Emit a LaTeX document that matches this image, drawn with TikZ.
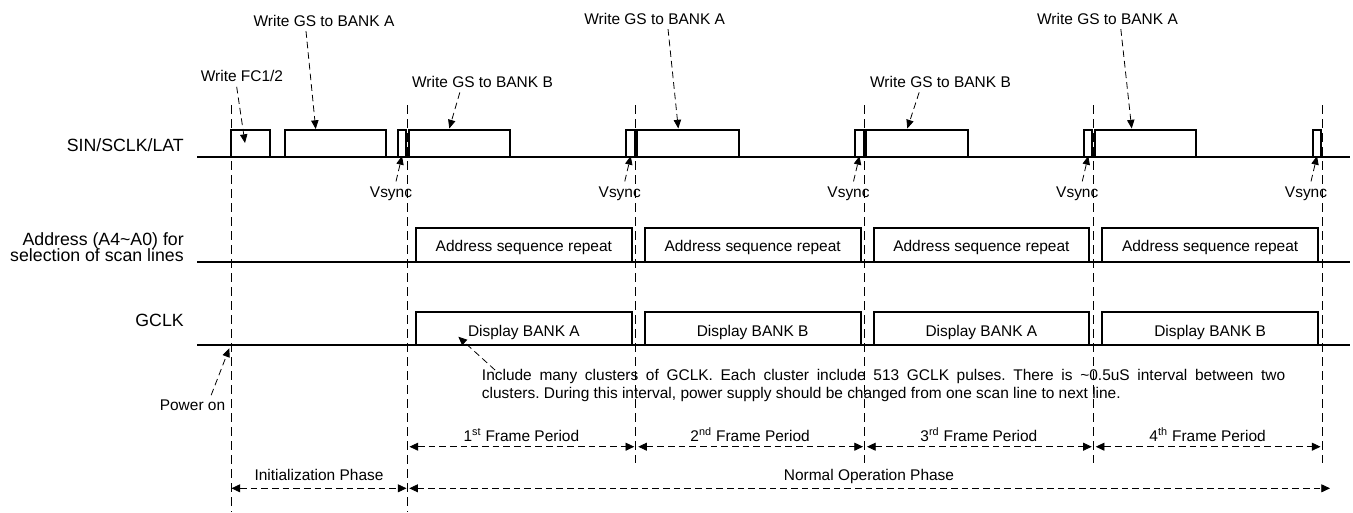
\documentclass[tikz,border=0pt]{standalone}
\usepackage{fontspec}
\setmainfont{Liberation Sans}
\usetikzlibrary{arrows.meta}
\def\period{228.75}
\def\syncx{407}
\def\sinlow{157}
\def\sinhigh{130}

\begin{document}
\begin{tikzpicture}[x=0.75pt,y=-0.75pt,font=\fontsize{11.6}{13.75}\selectfont]
            \tikzstyle{signal}=[line width=1.5pt]
            \tikzstyle{marker}=[line width=0.6pt,dash pattern=on 7pt off 3.5pt]
            \tikzstyle{note}=[line width=0.6pt,dash pattern=on 5pt off 3pt,-{Triangle[length=6.5pt,width=5.5pt]}]
            \tikzstyle{span}=[line width=0.6pt,dash pattern=on 5pt off 3pt,{Triangle[length=6.5pt,width=6pt]}-{Triangle[length=6.5pt,width=6pt]}]
            \tikzstyle{tag}=[inner sep=3.5pt,anchor=base]
            \tikzstyle{row name}=[inner sep=0pt,anchor=base east,font=\fontsize{13.3}{16}\selectfont]

            \useasboundingbox (0,0) rectangle (1353,512);

            % Signal names
            \node[row name] (sin)  at (184,151.7) {SIN/SCLK/LAT};
            \node[row name] (addr) at (184,245)   {Address (A4\textasciitilde A0) for};
            \node[row name] (scan) at (184,261.5) {selection of scan lines};
            \node[row name] (gclk) at (184,326.7) {GCLK};

            % Low levels
            \draw[signal] (197,\sinlow) -- (1350,\sinlow);
            \draw[signal] (197,261.7) -- (1350,261.7);
            \draw[signal] (197,345) -- (1350,345);

            % SIN/SCLK/LAT pulses before the first Vsync
            \draw[signal] (231,\sinlow) |- (270,\sinhigh) -- (270,\sinlow);
            \draw[signal] (285,\sinlow) |- (386,\sinhigh) -- (386,\sinlow);

            % Vsync pulses
            \foreach \k in {0,...,4}{
                \pgfmathsetmacro\xs{\syncx+\k*\period}
                \draw[signal] ({\xs-9.5},\sinlow) |- ({\xs-1},\sinhigh) -- ({\xs-1},\sinlow);
            }
            % Grayscale writes after each Vsync
            \foreach \k in {0,...,3}{
                \pgfmathsetmacro\xs{\syncx+\k*\period}
                \draw[signal] ({\xs+1.5},\sinlow) |- ({\xs+103},\sinhigh) -- ({\xs+103},\sinlow);
            }

            % Address and GCLK pulses, one per frame
            \foreach \k/\bank in {0/A,1/B,2/A,3/B}{
                \pgfmathsetmacro\xa{\syncx+\k*\period+9}
                \pgfmathsetmacro\xb{\syncx+(\k+1)*\period-4}
                \draw[signal] (\xa,261.7) |- (\xb,228) -- (\xb,261.7);
                \draw[signal] (\xa,345) |- (\xb,312) -- (\xb,345);
                \node[tag] (seq-\k) at ({(\xa+\xb)/2},251.7) {Address sequence repeat};
                \node[tag] (disp-\k) at ({(\xa+\xb)/2},336.7) {Display BANK \bank};
            }

            % Frame borders
            \draw[marker] (231,105) -- (231,512);
            \draw[marker] (\syncx,105) -- (\syncx,512);
            \foreach \k in {1,...,4}
                \draw[marker] ({\syncx+\k*\period},105) -- ({\syncx+\k*\period},463);

            % Vsync labels
            \foreach \k in {0,...,4}{
                \pgfmathsetmacro\xs{\syncx+\k*\period}
                \coordinate (vs-tip-\k) at ({\xs-5},156);
                \node[tag] (vs-\k) at ({\xs-16},197) {Vsync};
                \draw[note] ([xshift=3.75pt]vs-\k.north) -- (vs-tip-\k);
            }

            % Write labels
            \node[tag] (fc)    at (242,81.7)    {Write FC1/2};
            \node[tag] (gsa-1) at (324,26)      {Write GS to BANK A};
            \node[tag] (gsb-1) at (482.5,87.3)  {Write GS to BANK B};
            \node[tag] (gsa-2) at (654.7,24)    {Write GS to BANK A};
            \node[tag] (gsb-2) at (940.5,87.3)  {Write GS to BANK B};
            \node[tag] (gsa-3) at (1107.5,24)   {Write GS to BANK A};
            \coordinate (fc-tip)    at (245,143);
            \coordinate (gsa-tip-1) at (315.7,129);
            \coordinate (gsb-tip-1) at (449.3,128.5);
            \coordinate (gsa-tip-2) at (678.3,128.5);
            \coordinate (gsb-tip-2) at (907.3,128.5);
            \coordinate (gsa-tip-3) at (1131.7,128.5);
            \draw[note] ([xshift=-4pt]fc.south) -- (fc-tip);
            \draw[note] ([xshift=-13.5pt]gsa-1.south) -- (gsa-tip-1);
            \draw[note] ([xshift=-17pt]gsb-1.south) -- (gsb-tip-1);
            \draw[note] ([xshift=10pt]gsa-2.south) -- (gsa-tip-2);
            \draw[note] ([xshift=-16pt]gsb-2.south) -- (gsb-tip-2);
            \draw[note] ([xshift=10pt]gsa-3.south) -- (gsa-tip-3);

            % Power on
            \node[tag] (pwr) at (192.5,410.7) {Power on};
            \coordinate (pwr-tip) at (229.3,348.3);
            \draw[note] ([xshift=14pt]pwr.north) -- (pwr-tip);

            % GCLK clusters
            \node[inner sep=0pt,anchor=north west,text width=602.5pt,align=justify] (clusters) at (481.7,368.7)
                {\frenchspacing Include many clusters of GCLK. Each cluster include 513 GCLK pulses. There is \textasciitilde0.5uS interval between two\linebreak
                 clusters. During this interval, power supply should be changed from one scan line to next line.};
            \coordinate (clusters-tip) at (458.3,336.7);
            \draw[note] ([xshift=10pt,yshift=-1pt]clusters.north west) -- (clusters-tip);

            % Frame periods
            \foreach \k/\n/\nth in {0/1/st,1/2/nd,2/3/rd,3/4/th}{
                \pgfmathsetmacro\xs{\syncx+\k*\period}
                \pgfmathsetmacro\xe{\syncx+(\k+1)*\period}
                \coordinate (fr-l-\k) at ({\xs+2.5},446.7);
                \coordinate (fr-r-\k) at ({\xe-1.5},446.7);
                \draw[span] (fr-l-\k) -- (fr-r-\k);
                \node[tag] (fr-\k) at ({(\xs+\xe)/2},441) {\n\textsuperscript{\nth} Frame Period};
            }

            % Phases
            \coordinate (ph-0) at (231.5,488.3);
            \coordinate (ph-1) at (406.5,488.3);
            \coordinate (ph-2) at (409.3,488.3);
            \coordinate (ph-3) at (1330,488.3);
            \draw[span] (ph-0) -- (ph-1);
            \draw[span] (ph-2) -- (ph-3);
            \node[tag] (init)   at (319,480) {Initialization Phase};
            \node[tag] (normal) at (869,480) {Normal Operation Phase};
\end{tikzpicture}
\end{document}
